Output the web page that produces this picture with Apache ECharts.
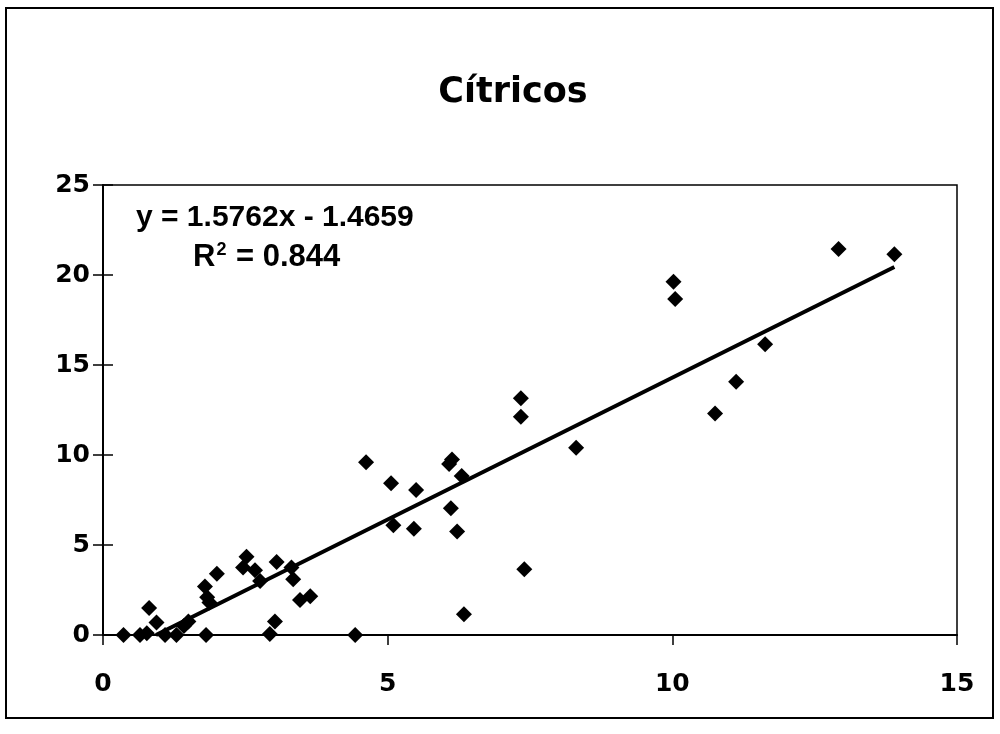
<!DOCTYPE html>
<html>
<head>
<meta charset="utf-8">
<script src="https://cdn.jsdelivr.net/npm/echarts@6/dist/echarts.min.js"></script>
<style>
html,body{margin:0;padding:0;background:#fff;}
#chart{width:1000px;height:734px;}
</style>
</head>
<body>
<div id="chart"></div>
<script>
// ---- data ----
const xValues = [0.36,0.65,0.77,0.81,0.94,1.09,1.29,1.42,1.50,1.81,1.79,1.83,1.87,2.00,2.46,2.52,2.67,2.76,2.93,3.02,3.05,3.31,3.34,3.46,3.64,4.43,4.62,5.06,5.10,5.46,5.50,6.08,6.13,6.11,6.22,6.30,6.34,7.34,7.34,7.40,8.31,10.02,10.05,10.75,11.12,11.63,12.92,13.90];
const yValues = [0,0,0.1,1.5,0.7,0,0,0.5,0.75,0,2.7,2.1,1.8,3.4,3.75,4.35,3.6,3.0,0.05,0.75,4.05,3.75,3.1,1.95,2.15,0,9.6,8.43,6.1,5.9,8.05,9.5,9.75,7.04,5.75,8.83,1.15,13.15,12.13,3.65,10.4,19.63,18.67,12.31,14.07,16.15,21.44,21.15];
const trendCoef = [1.5762, -1.4659]; // slope, intercept
const titleText = "Cítricos";
const xTicks = [0,5,10,15];
const yTicks = [0,5,10,15,20,25];

const points = xValues.map((x,i)=>[x,yValues[i]]);
const xMaxData = Math.max(...xValues);
const xStart = -trendCoef[1]/trendCoef[0]; // where the fitted line meets y = 0
const trend = [[xStart, trendCoef[0]*xStart+trendCoef[1]], [xMaxData, trendCoef[0]*xMaxData+trendCoef[1]]];

const FONT = "'DejaVu Sans', 'Liberation Sans', Arial, sans-serif";
const EQFONT = "'Liberation Sans', Arial, sans-serif";
const chart = echarts.init(document.getElementById('chart'));
const baseGraphics = [
  {type: 'rect', shape: {x: 6, y: 8, width: 987, height: 710}, style: {fill: 'none', stroke: '#000', lineWidth: 2}, z: 100},
  {type: 'text', left: 136, top: 203, style: {text: 'y = 1.5762x - 1.4659', font: "bold 30px 'Liberation Sans', Arial, sans-serif", fill: '#000'}},
  {type: 'text', left: 193, top: 241, style: {
    text: 'R{s|2} = 0.844',
    rich: {s: {fontSize: 18, fontWeight: 'bold', fontFamily: EQFONT, verticalAlign: 'top', padding: [0,1,14,1]}},
    font: "bold 31px 'Liberation Sans', Arial, sans-serif", fill: '#000'}}
];
chart.setOption({
  backgroundColor: '#fff',
  animation: false,
  title: {
    text: titleText, left: 508, top: 70, textAlign: 'center',
    textStyle: {fontFamily: FONT, fontWeight: 'bold', fontSize: 35, color: '#000'}
  },
  grid: {left: 103, right: 43, top: 185, bottom: 99, show: true, borderColor: '#000', borderWidth: 1.5, backgroundColor: 'transparent'},
  xAxis: {
    type: 'value', min: 0, max: 15, interval: 5,
    axisLine: {show: true, onZero: false, lineStyle: {color: '#000', width: 2}},
    axisTick: {show: true, length: 10, lineStyle: {color: '#000', width: 1.5}},
    splitLine: {show: false},
    axisLabel: {margin: 37, color: '#000', fontFamily: FONT, fontWeight: 'bold', fontSize: 25,
      formatter: v => xTicks.includes(v) ? String(v) : ''}
  },
  yAxis: {
    type: 'value', min: 0, max: 25, interval: 5,
    axisLine: {show: true, lineStyle: {color: '#000', width: 2}},
    axisTick: {show: true, length: 10, lineStyle: {color: '#000', width: 1.5}},
    splitLine: {show: false},
    axisLabel: {margin: 13, color: '#000', fontFamily: FONT, fontWeight: 'bold', fontSize: 25,
      formatter: v => yTicks.includes(v) ? String(v) : ''}
  },
  graphic: baseGraphics,
  series: [
    {type: 'scatter', data: points, symbol: 'diamond', symbolSize: 16, itemStyle: {color: '#000', opacity: 1}, z: 3},
    {type: 'line', data: trend, showSymbol: false, symbol: 'none', lineStyle: {color: '#000', width: 4}, z: 2}
  ]
});
// inner halves of the crossing y-axis ticks, placed through the axis scale
const x0 = chart.convertToPixel({xAxisIndex: 0}, 0);
const innerTicks = yTicks.map(v => {
  const py = chart.convertToPixel({yAxisIndex: 0}, v);
  return {type: 'line', shape: {x1: x0, y1: py, x2: x0 + 10, y2: py}, style: {stroke: '#000', lineWidth: 1.5}, z: 50};
});
chart.setOption({graphic: baseGraphics.concat(innerTicks)}, {replaceMerge: ['graphic']});
</script>
</body>
</html>
